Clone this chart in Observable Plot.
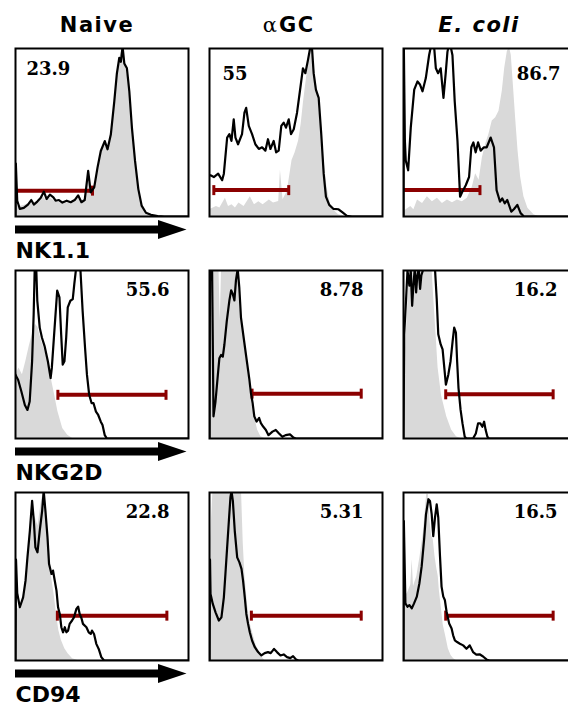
<!DOCTYPE html>
<html><head><meta charset="utf-8">
<script src="https://cdn.jsdelivr.net/npm/d3@7"></script>
<script src="https://cdn.jsdelivr.net/npm/@observablehq/plot@0.6"></script>
<style>
html, body {margin:0; padding:0; background:#fff; overflow:hidden; width:568px; height:708px;}
#chart svg {display:block; max-width:none !important;}
g[aria-description="header"] text {letter-spacing: 1.5px;}
</style>
</head><body><div id="chart"></div>
<script>
// ---- categories ----
const columns = ["Naive", "αGC", "E. coli"];
const markers = ["NK1.1", "NKG2D", "CD94"];
const percentLabels = [["23.9", "55", "86.7"], ["55.6", "8.78", "16.2"], ["22.8", "5.31", "16.5"]];

// gate (marker region) bounds, in % of log-fluorescence axis, and its height in % of max
const gateLow   = [[0, 2.5, 0], [24.5, 24.6, 24.4], [24.2, 24.2, 24.4]];
const gateHigh  = [[44.5, 45.8, 44.2], [87, 87.7, 86.5], [87.5, 87.7, 86.5]];
const gateLevel = [[15.4, 15.7, 15.7], [26, 26.7, 26.3], [26.7, 26.7, 26.7]];

// ---- histograms: [fluorescence %, count % of max] ----
// stained (black line) and control (grey fill)
const nk11NaiveStained = [[0,0],[0.2,31.5],[1,9.4],[2.5,4.5],[4.8,5.1],[7.2,7.1],[9.1,9.8],[10.6,7.1],[12.6,8.9],[14.5,11],[16.4,14.8],[18,10.4],[19.9,13],[21.9,11.4],[23.2,9.4],[25.1,9.8],[27.1,8.3],[29.6,9.4],[31.9,8.5],[34.2,9.8],[36.2,12.6],[38.1,8.5],[40,9.8],[42,27.2],[43.5,14.4],[45.5,17.3],[47.4,29.1],[49.3,39],[51.6,44.9],[53.2,40],[55.1,48.8],[57.1,68.5],[58.6,85.2],[60,94.5],[60.9,92.1],[61.9,101],[62.9,91.1],[64.4,88.2],[65.8,74.4],[67.3,52.8],[69.1,33.1],[71,16.3],[72.9,6.5],[75.4,2.2],[78.3,1],[82.2,0.2],[86,0],[100,0]];
const nk11NaiveControl = [[0,7],[2,6],[5,6.5],[8,8],[10,7.5],[13,9],[16,12],[18,9],[20,11],[23,9],[26,8],[30,8],[34,9],[36,11],[38,8],[40,9],[42,24],[43.5,13],[45.5,16],[47.4,27],[49.3,37],[51.6,43],[53.2,39],[55.1,47],[57.1,66],[58.6,83],[60,93],[61.9,101],[63.5,90],[65,82],[66.5,65],[68,45],[70,26],[72,11],[74,4.5],[76,2],[79,0.5],[83,0],[100,0]];
const nk11AgcStained = [[0,24.5],[0.6,24.5],[2.5,23.5],[5,25.5],[7.3,21.6],[8.3,25.5],[10.2,47],[11.5,49],[12.7,45],[14,57.8],[15,47],[16.5,43],[18.8,49],[20.2,61.8],[21.2,64.7],[22.7,53.9],[24.6,49],[26.5,43],[28.5,40.2],[30.4,41.2],[32.3,39.2],[33.8,46],[35.2,40.2],[37.1,45],[38.5,38.2],[40,39.2],[41.5,53.9],[42.9,55.9],[44.2,52.9],[45.8,57.8],[47.1,49],[48.7,51.9],[50.6,61.8],[52.5,76.5],[54,88.2],[55.4,85.3],[56.9,93.1],[58.3,101],[59.2,101],[60.2,85.3],[61.5,75.5],[63.1,70.6],[64.6,49],[66,25.5],[67.3,11.8],[69.2,6.9],[71.7,4.5],[74.6,4.3],[76.9,2.4],[79.4,0.4],[82.3,0],[100,0]];
const nk11AgcControl = [[0,4],[4,6],[6,5],[9.2,10.8],[11,6],[13,7],[15,5],[17,8],[20,6],[23.6,11.8],[26,7],[28.5,8.8],[31,7],[34.6,9.8],[37,8],[40,9],[41,27.5],[42.5,10],[45,15],[47.7,33.3],[49.5,38],[51.5,45],[53,55],[54.4,68.6],[56.3,84.3],[58.3,101],[60.2,92.2],[62.1,76.5],[64,56.9],[66,35.3],[67.9,17.6],[69.8,7.8],[71.7,3.9],[74.6,1],[78.5,0],[100,0]];
const nk11EcoliStained = [[0,0],[0.2,101],[0.8,45],[1.3,33.3],[2.7,27.5],[4.2,52.9],[6.2,75.5],[8.1,80.4],[9.6,78.4],[11,74.5],[12.9,82.4],[14.8,96],[15.8,101],[17.7,101],[18.7,88.2],[20,85.3],[21.5,88.2],[23.1,70.6],[24.4,85.3],[25.4,98],[26,101],[27.3,101],[28.3,96],[29.6,68.6],[31.2,45],[32.7,11.8],[34,14.7],[36,18.6],[37.9,23.5],[39.2,41.2],[40.4,44.1],[41.7,38.2],[43.1,44.1],[44.6,39.2],[46.5,41.2],[48.1,41.2],[50.4,47],[52.3,41.2],[53.8,15.7],[55.8,8.8],[57.1,10.8],[58.5,7.8],[60,9.8],[62.3,2.9],[63.8,4.3],[65.8,6.9],[67.7,2],[69.6,0],[100,0]];
const nk11EcoliControl = [[0,2],[1.3,3.9],[4.2,5.9],[6,4],[8.1,9.8],[11,7.8],[13.8,11.8],[16.7,8.8],[19.6,10.8],[22.5,7.8],[25.4,9.8],[28.3,8.2],[31.2,9.8],[34,8.8],[36.9,10.8],[39.8,17.6],[41.7,25.5],[43.7,21.6],[45.6,35],[47.5,43],[49.4,49],[51.3,56.9],[53.3,58.8],[55.2,62.7],[57.1,74.5],[58.5,88.2],[60,98],[61.2,101],[62.3,96],[63.5,78.4],[64.8,58.8],[66.2,39.2],[67.7,23.5],[69.6,11.8],[71.9,4.9],[75.4,1],[78,0],[100,0]];

const nkg2dNaiveStained = [[0,38],[0.4,37],[1.5,35],[3.4,28],[5.4,20],[6.9,17],[8.2,22],[9.6,46],[10.5,74],[11.1,101],[12,101],[12.6,82],[14,66],[15.3,60],[16.8,55],[18.7,46],[20.3,36],[21,42],[22.6,66],[24.1,88],[25.4,84],[26.4,62],[27.3,44],[28.3,46],[29.3,60],[30.2,78],[31.7,82],[33.1,83],[34,92],[35,101],[37.5,101],[38.8,76],[40.2,54],[41.3,38],[42.6,26],[44,21],[45.1,21],[46.5,16],[47.8,14],[49.3,10],[50.3,8],[51.6,2],[52.8,0],[100,0]];
const nkg2dNaiveControl = [[0,0],[0.3,38],[2,42],[4,38],[6,46],[8,55],[10,63],[11.5,68],[13,66],[15,58],[17,52],[19,46],[20.6,36],[22.6,26],[24.5,16],[27.3,6],[30.2,2],[33,0],[100,0]];
const nkg2dAgcStained = [[0,0],[0.3,101],[1.5,101],[2.3,13.2],[3.4,21.3],[4.8,37.5],[5.7,47.7],[6.7,49.7],[7.7,48.7],[8.6,55.8],[10,70],[11.5,82.2],[12.5,88.2],[13.4,86.2],[14.4,82.2],[15.3,94.3],[16.3,101],[17.2,90.3],[18.2,72],[19.5,61.9],[21.1,49.7],[23,35.5],[23.9,27.4],[24.9,21.3],[25.9,13.2],[27.2,10.1],[28.7,12.2],[29.7,9.1],[31,7.1],[32.6,5.1],[34.1,2],[36.4,4.1],[38.3,5.1],[40.2,3],[42.1,1],[44,2],[46.5,2.5],[48.5,0.5],[50,0],[100,0]];
const nkg2dAgcControl = [[0,0],[0.5,60],[1.5,101],[5.5,101],[6.2,70],[7,101],[17,101],[17.2,82],[19.5,62],[22,41.6],[23.9,25.4],[25.5,15.2],[27.8,5],[29.7,1],[32,0],[100,0]];
const nkg2dEcoliStained = [[0,0],[0.2,30],[0.4,62],[1.5,83],[2.3,100],[3.4,91],[4.2,100],[5,79],[5.7,91],[6.5,101],[7.3,87],[8,97],[8.8,101],[9.6,89],[10.3,97],[11.5,101],[18.2,101],[19.2,83],[20.1,62],[21.5,56],[22.6,53],[23.6,42],[24.5,32],[25.9,38],[27.2,46],[28.4,58],[29.3,66],[30.3,63],[31,46],[31.8,30],[33,17],[34.1,9],[35.4,1],[36.4,0],[40.2,0],[41.8,3],[43.1,9],[44.4,9],[45.6,7],[46.6,10],[47.5,5],[48.5,1],[49.4,0],[100,0]];
const nkg2dEcoliControl = [[0,0],[0.5,40],[2,70],[3.5,101],[16.5,101],[17.5,83],[18.8,62],[20,42],[22,25.5],[25,13],[27.8,5],[30.6,1],[33,0],[100,0]];

const cd94NaiveStained = [[0,0],[0.3,60],[1,40],[2.5,31.7],[4.4,37.6],[5.8,47.5],[6.9,61.4],[8.3,77.2],[9.6,95],[10.6,83.2],[11.5,67.3],[12.7,64.4],[14,77.2],[15.4,89.1],[16.3,101],[17.3,89.1],[18.5,73.3],[19.4,57.4],[20.8,51.5],[21.7,53.5],[22.7,47.5],[23.7,41.6],[24.6,31.7],[25.6,27.7],[26.5,19.8],[27.5,16.8],[28.5,19.8],[29.4,16.8],[30.4,17.8],[31.3,21.8],[32.7,23.8],[33.8,25.7],[35.2,30.7],[36.2,32.1],[37.1,27.7],[38.1,25.3],[39,21.8],[41,19.8],[42.3,16.8],[43.5,15.8],[44.2,17.8],[45.4,15.8],[46.7,9.9],[48.1,6.9],[49.6,2],[51.2,0],[100,0]];
const cd94NaiveControl = [[0,0],[0.5,30],[3,32],[5,40],[7,60],[8.5,75],[10,88],[11.5,85],[13,80],[15,95],[16.5,101],[18,85],[19.5,68],[20.8,50],[22.5,38],[23.7,27.7],[25,18],[26.5,12],[28.5,7],[30.4,4],[33,1],[36,0],[100,0]];
const cd94AgcStained = [[0,0],[0.3,60],[0.6,39.6],[1.9,33.7],[3.5,28.7],[5.4,23.8],[6.9,25.7],[8.3,37.6],[9.2,51.5],[10.2,67.3],[11.2,83.2],[12.1,97],[12.7,101],[13.5,95],[14.6,77.2],[16,61.4],[17.3,58.4],[18.5,54.5],[19.4,47.5],[20.4,37.6],[21.3,27.7],[22.3,21.8],[23.3,16.8],[24.6,11.9],[26.2,7.9],[28.1,5],[30,3],[31.9,4.4],[33.8,5],[35.4,4.4],[37.3,6.9],[39,5],[41,3],[42.9,3.6],[44.8,2],[46.7,1.4],[48.3,2.6],[50,0.6],[51.5,0],[100,0]];
const cd94AgcControl = [[0,0],[0.5,70],[2,101],[18.5,101],[19.5,70],[20.5,50],[22,33],[23.5,22],[25.6,14],[27,9],[28.5,6],[30.4,2],[32,0],[100,0]];
const cd94EcoliStained = [[0,0],[0.2,83],[1.1,34],[2.3,32],[3.4,33],[4.8,31],[6.1,34],[7.7,38],[9.2,46],[10.5,56],[11.9,72],[13,87],[14.4,96],[15.3,95],[16.3,87],[17.2,74],[18.2,85],[19.2,93],[20.1,85],[21.1,62],[22,44],[23,38],[23.9,36],[24.9,29],[26.4,22],[27.8,19],[28.7,15],[29.7,12],[31,11],[32.6,10],[34.5,9],[36.4,7],[38.3,9],[40.2,5],[42.1,3.5],[44,3.7],[46,2.4],[48.3,0.4],[49.8,0],[100,0]];
const cd94EcoliControl = [[0,0],[0.5,38],[2.3,40],[4.2,45],[5,60],[5.8,44],[7.7,50],[9.6,62],[11.5,76],[13.4,99],[14.4,99],[15.3,83],[16.3,74],[17.2,72],[18.2,62],[19.2,55],[20.1,50],[20.7,42],[22,30],[23,21],[24.5,14],[25.9,7],[27.5,3],[29,1],[30.5,0],[100,0]];

const stainedCurves = [
  [nk11NaiveStained, nk11AgcStained, nk11EcoliStained],
  [nkg2dNaiveStained, nkg2dAgcStained, nkg2dEcoliStained],
  [cd94NaiveStained, cd94AgcStained, cd94EcoliStained]
];
const controlCurves = [
  [nk11NaiveControl, nk11AgcControl, nk11EcoliControl],
  [nkg2dNaiveControl, nkg2dAgcControl, nkg2dEcoliControl],
  [cd94NaiveControl, cd94AgcControl, cd94EcoliControl]
];

// ---- tables built from the arrays ----
const stained = [], control = [], gates = [], labels = [];
markers.forEach((m, i) => columns.forEach((c, j) => {
  for (const [x, y] of stainedCurves[i][j]) stained.push({row: m, col: c, x, y});
  for (const [x, y] of controlCurves[i][j]) control.push({row: m, col: c, x, y});
  gates.push({row: m, col: c, x1: gateLow[i][j], x2: gateHigh[i][j], y: gateLevel[i][j]});
  labels.push({row: m, col: c, label: percentLabels[i][j]});
}));
const gateEnds = gates.flatMap(g => [{...g, x: g.x1}, {...g, x: g.x2}]).filter(d => d.x > 0);
const headers = columns.map(c => ({col: c, row: markers[0]}));
const rowAxes = markers.map(m => ({row: m, col: columns[0]}));

const RED = "#8b0000";
const vbar = {draw(ctx, size) { const r = Math.sqrt(size / Math.PI); ctx.moveTo(0, -r); ctx.lineTo(0, r); }};
const arrowHead = {draw(ctx, size) { const r = Math.sqrt(size / Math.PI); ctx.moveTo(0, 0); ctx.lineTo(-3 * r, -r); ctx.lineTo(-3 * r, r); ctx.closePath(); }};

const F = {fx: "col", fy: "row"};
const sans = "DejaVu Sans, Arial, sans-serif";
const serif = "DejaVu Serif, Times New Roman, serif";
const isRow = (i) => (d) => d.row === markers[i];
const isCol = (j) => (d) => d.col === columns[j];
const T = {lineAnchor: "middle", fill: "black"};

const chart = Plot.plot({
  width: 590,
  height: 708,
  marginLeft: 14, marginRight: 14, marginTop: 47, marginBottom: 48,
  style: {background: "white", maxWidth: "none"},
  fx: {domain: columns, axis: null, paddingInner: 0.11, paddingOuter: 0},
  fy: {domain: markers, axis: null, paddingInner: 0.245, paddingOuter: 0},
  x: {domain: [0, 100], axis: null},
  y: {domain: [0, 100], axis: null},
  marks: [
    Plot.areaY(control, {...F, x: "x", y: "y", fill: "#d9d9d9", clip: true}),
    Plot.ruleY(gates, {...F, y: "y", x1: "x1", x2: "x2", stroke: RED, strokeWidth: 4}),
    Plot.dot(gateEnds, {...F, x: "x", y: "y", r: 5, symbol: vbar, stroke: RED, strokeWidth: 3, fill: "none"}),
    Plot.lineY(stained, {...F, x: "x", y: "y", stroke: "black", strokeWidth: 2.2, strokeLinejoin: "round", clip: true}),
    Plot.frame({stroke: "black", strokeWidth: 2}),
    // row axis arrows
    Plot.ruleY(rowAxes, {...F, y: 0, x1: 0, x2: 85, dy: 13, stroke: "black", strokeWidth: 8}),
    Plot.dot(rowAxes, {...F, x: 100, y: 0, dx: -2, dy: 13, r: 9.5, symbol: arrowHead, fill: "black", stroke: "none"}),
    Plot.text(rowAxes, {...F, ...T, text: "row", frameAnchor: "bottom-left", textAnchor: "start", dy: 34.5, fontFamily: sans, fontWeight: "bold", fontSize: 22}),
    // column headers
    Plot.text(headers.filter(isCol(0)), {...F, ...T, text: "col", frameAnchor: "top", textAnchor: "middle", dx: -5, dy: -23.5, fontFamily: sans, fontWeight: "bold", fontSize: 21, ariaDescription: "header"}),
    Plot.text(headers.filter(isCol(1)), {...F, ...T, text: d => d.col.slice(0, 1), frameAnchor: "top", textAnchor: "end", dx: -19, dy: -23.5, fontFamily: serif, fontWeight: "normal", fontSize: 21}),
    Plot.text(headers.filter(isCol(1)), {...F, ...T, text: d => d.col.slice(1), frameAnchor: "top", textAnchor: "start", dx: -17, dy: -23.5, fontFamily: sans, fontWeight: "bold", fontSize: 21, ariaDescription: "header"}),
    Plot.text(headers.filter(isCol(2)), {...F, ...T, text: "col", frameAnchor: "top", textAnchor: "middle", dx: -11, dy: -23.5, fontFamily: sans, fontWeight: "bold", fontStyle: "italic", fontSize: 21, ariaDescription: "header"}),
    // percentages
    Plot.text(labels.filter(d => isRow(0)(d) && isCol(0)(d)), {...F, ...T, text: "label", frameAnchor: "top-left", textAnchor: "start", dx: 11, dy: 20.5, fontFamily: serif, fontWeight: "bold", fontSize: 18}),
    Plot.text(labels.filter(d => isRow(0)(d) && isCol(1)(d)), {...F, ...T, text: "label", frameAnchor: "top-left", textAnchor: "start", dx: 13, dy: 25.5, fontFamily: serif, fontWeight: "bold", fontSize: 18}),
    Plot.text(labels.filter(d => isRow(0)(d) && isCol(2)(d)), {...F, ...T, text: "label", frameAnchor: "top-right", textAnchor: "end", dx: -16, dy: 25.5, fontFamily: serif, fontWeight: "bold", fontSize: 18}),
    Plot.text(labels.filter(d => !isRow(0)(d)), {...F, ...T, text: "label", frameAnchor: "top-right", textAnchor: "end", dx: -19, dy: 20, fontFamily: serif, fontWeight: "bold", fontSize: 18})
  ]
});
document.getElementById("chart").appendChild(chart);
</script>
</body></html>
